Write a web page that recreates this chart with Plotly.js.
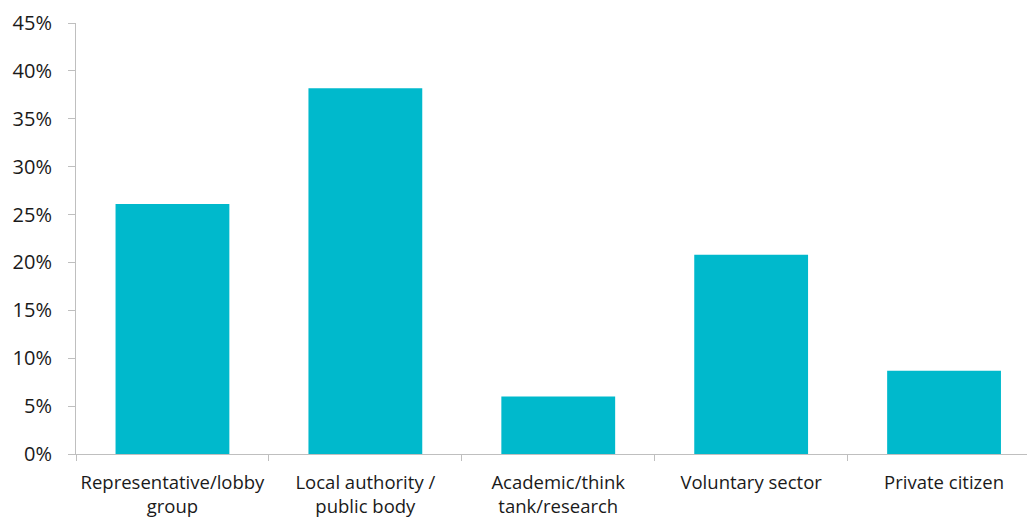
<!DOCTYPE html>
<html>
<head>
<meta charset="utf-8">
<script src="https://cdn.plot.ly/plotly-3.0.1.min.js"></script>
<style>html,body{margin:0;padding:0;background:#fff;}#chart{width:1027px;height:517px;}</style>
</head>
<body>
<div id="chart"></div>
<script>
const categories = ["Representative/lobby<br>group", "Local authority /<br>public body", "Academic/think<br>tank/research", "Voluntary sector", "Private citizen"];
const shares = [26.1, 38.2, 6.0, 20.8, 8.7];
const yTicks = [0, 5, 10, 15, 20, 25, 30, 35, 40, 45];
const yTickLabels = ["0%", "5%", "10%", "15%", "20%", "25%", "30%", "35%", "40%", "45%"];

const font = {family: "Open Sans, Noto Sans, sans-serif", size: 18.5, color: "#1a1a1a"};

Plotly.newPlot("chart", [{
  type: "bar",
  x: categories,
  y: shares,
  width: 0.59,
  marker: {color: "#00B9CC", line: {width: 0}},
  hoverinfo: "none"
}], {
  width: 1027,
  height: 517,
  margin: {l: 76, r: 0, t: 23, b: 63},
  paper_bgcolor: "#fff",
  plot_bgcolor: "#fff",
  showlegend: false,
  font: font,
  xaxis: {
    type: "category",
    range: [-0.5, 4.43],
    showline: true,
    linecolor: "#BFBFBF",
    linewidth: 1,
    ticks: "outside",
    tickson: "boundaries",
    ticklen: 6,
    tickcolor: "#BFBFBF",
    tickangle: 0,
    showgrid: false,
    zeroline: false,
    tickfont: font,
    ticklabelstandoff: 12,
    fixedrange: true
  },
  yaxis: {
    range: [0, 45],
    tickvals: yTicks,
    ticktext: yTickLabels,
    showline: true,
    linecolor: "#BFBFBF",
    linewidth: 1,
    ticks: "outside",
    ticklen: 7,
    tickcolor: "#BFBFBF",
    showgrid: false,
    zeroline: false,
    tickfont: {family: font.family, size: 20, color: "#1a1a1a"},
    ticklabelstandoff: 12,
    fixedrange: true
  }
}, {displayModeBar: false, staticPlot: true});
</script>
</body>
</html>
